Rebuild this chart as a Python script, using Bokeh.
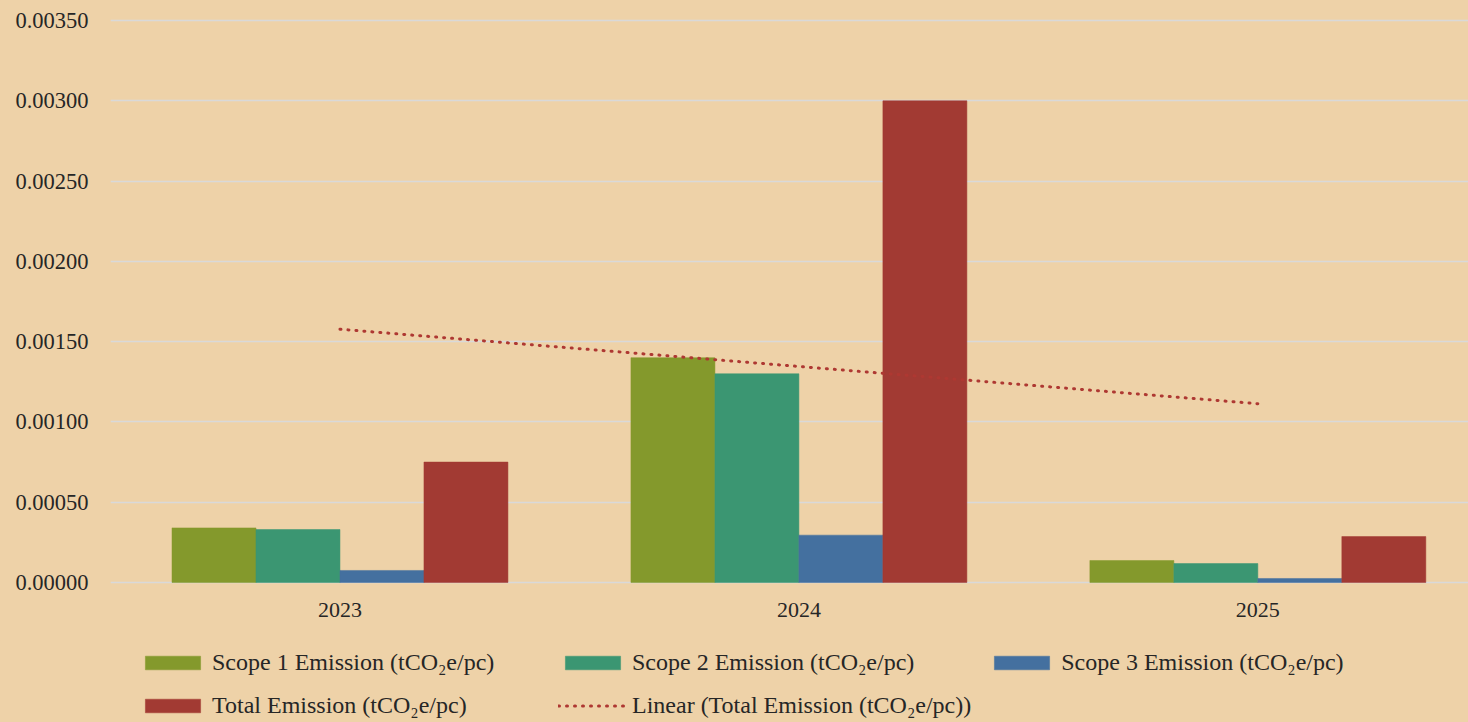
import numpy as np
from bokeh.plotting import figure
from bokeh.layouts import column
from bokeh.models import (ColumnDataSource, Range1d, FixedTicker, PrintfTickFormatter,
                          Legend, LegendItem)
from bokeh.transform import dodge
from bokeh.embed import file_html
from bokeh.resources import INLINE

# ---- data ----
years = ["2023", "2024", "2025"]
scope1 = [0.000340, 0.001400, 0.000137]
scope2 = [0.000330, 0.001300, 0.000118]
scope3 = [0.000075, 0.000295, 0.000025]
total = [0.000750, 0.003000, 0.000286]
y_ticks = [0.0, 0.0005, 0.0010, 0.0015, 0.0020, 0.0025, 0.0030, 0.0035]

series_names = ["Scope 1 Emission (tCO\u2082e/pc)", "Scope 2 Emission (tCO\u2082e/pc)",
                "Scope 3 Emission (tCO\u2082e/pc)", "Total Emission (tCO\u2082e/pc)"]
trend_name = "Linear (Total Emission (tCO\u2082e/pc))"
colors = ["#84992C", "#3B9672", "#44709F", "#A23A33"]
trend_color = "#AE3832"

xpos = list(range(1, len(years) + 1))
src = ColumnDataSource(dict(x=xpos, s1=scope1, s2=scope2, s3=scope3, tot=total))

# linear trend of total (least squares)
coef = np.polyfit(xpos, total, 1)
trend_y = list(np.polyval(coef, xpos))

BG = "#EED2A8"
FONT = "Liberation Serif"
TXT = "#262626"

bw = 0.183
offsets = [-1.5 * bw, -0.5 * bw, 0.5 * bw, 1.5 * bw]
cols = ["s1", "s2", "s3", "tot"]


def add_series(fig):
    rs = []
    for c, off, col in zip(cols, offsets, colors):
        rs.append(fig.vbar(x=dodge("x", off, range=fig.x_range), top=c, bottom=0,
                           width=bw, source=src, fill_color=col, line_color=col,
                           line_width=0.5))
    rs.append(fig.line(xpos, trend_y, line_color=trend_color, line_width=3,
                       line_dash="1 7", line_cap="round"))
    return rs


# ---- main chart ----
p = figure(width=1468, height=640, output_backend="svg", toolbar_location=None,
           x_range=Range1d(0.5, 3.459), y_range=Range1d(-0.0000125, 0.0035125),
           min_border_left=110, min_border_right=0, min_border_top=18,
           min_border_bottom=56)
p.background_fill_alpha = 0
p.border_fill_color = BG
p.outline_line_color = None
add_series(p)

p.xaxis.ticker = FixedTicker(ticks=xpos)
p.xaxis.major_label_overrides = {x: y for x, y in zip(xpos, years)}
p.xaxis.axis_line_color = None
p.xaxis.major_tick_line_color = None
p.xaxis.minor_tick_line_color = None
p.xaxis.major_label_standoff = 12
p.xaxis.major_label_text_font = FONT
p.xaxis.major_label_text_font_size = "22px"
p.xaxis.major_label_text_color = TXT

p.yaxis.ticker = FixedTicker(ticks=y_ticks)
p.yaxis.formatter = PrintfTickFormatter(format="%.5f")
p.yaxis.axis_line_color = None
p.yaxis.major_tick_line_color = None
p.yaxis.minor_tick_line_color = None
p.yaxis.major_label_standoff = 16
p.yaxis.major_label_text_font = FONT
p.yaxis.major_label_text_font_size = "22.5px"
p.yaxis.major_label_text_color = TXT

p.xgrid.visible = False
p.ygrid.ticker = FixedTicker(ticks=y_ticks)
p.ygrid.grid_line_color = "#D9D9D9"
p.ygrid.grid_line_width = 1.6

# ---- legend strip (same series, ranges chosen so that no mark is in view) ----
lg = figure(width=1468, height=82, output_backend="svg", toolbar_location=None,
            x_range=Range1d(0, 1), y_range=Range1d(10, 11),
            x_axis_type=None, y_axis_type=None,
            min_border_left=0, min_border_right=0, min_border_top=0, min_border_bottom=0)
lg.background_fill_alpha = 0
lg.border_fill_color = BG
lg.outline_line_color = None
lg.xgrid.visible = False
lg.ygrid.visible = False
leg_renderers = add_series(lg)

names = series_names + [trend_name]
items = [LegendItem(label=n, renderers=[r]) for n, r in zip(names, leg_renderers)]
legend = Legend(items=items, location=(28, 3), orientation="horizontal", ncols=3,
                glyph_width=69, glyph_height=17, label_standoff=5, label_width=330,
                label_height=20, spacing=16, padding=0, margin=0,
                border_line_color=None, background_fill_alpha=0,
                label_text_font=FONT, label_text_font_size="24px",
                label_text_color=TXT)
lg.add_layout(legend, "center")

layout = column(p, lg, spacing=0, styles={"background-color": BG})
open("out.html", "w").write(file_html(layout, INLINE))
